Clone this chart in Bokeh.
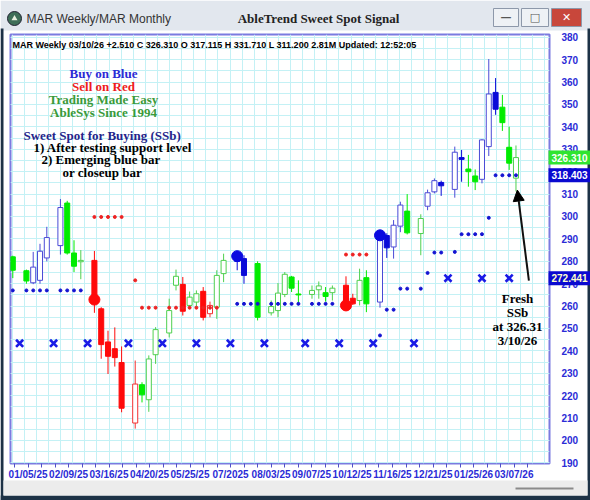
from bokeh.plotting import figure
from bokeh.models import (Range1d, FixedTicker, Label, Arrow, NormalHead,
                          ColumnDataSource, GridBox)
from bokeh.core.properties import value
from bokeh.embed import file_html
from bokeh.resources import INLINE

# ---------------- data (weekly bars, x = bar slot) ----------------
bar_slot = [0, 2, 3, 4, 5, 7, 8, 9, 10, 12, 13, 14, 15, 16, 18, 19, 20, 21,
            23, 24, 25, 26, 27, 28, 29, 30, 31, 33, 34, 36, 38, 39, 40, 41, 42,
            44, 45, 46, 47, 49, 50, 51, 52, 54, 55, 56, 57, 58, 60, 61, 62, 63,
            65, 66, 67, 68, 69, 70, 71, 72, 73, 74]
bar_open = [282, 275.8, 270.4, 271.5, 281.5, 287, 306, 283.7, 279.8, 280.4, 258.8, 244, 241, 234.8, 207.8, 224.9, 218.2, 238.3,
            248, 269.3, 269.7, 260.3, 261.8, 266.6, 256.6, 259.5, 274.5, 282.5, 281.2, 279, 257, 258, 265.2, 273, 265.4,
            265.2, 267.3, 266, 266, 269.3, 263.5, 262.5, 272.7, 261.8, 291.5, 286.4, 295.7, 302.4, 292.4, 304.6, 311, 315.2,
            312.1, 326.3, 321.2, 318.1, 316.6, 331.2, 355.4, 348.8, 330.9, 317.115]
bar_high = [282.5, 276.3, 284.2, 287.8, 295.4, 307.8, 307, 289.4, 285, 284.6, 259.5, 249, 250.5, 242, 235.7, 226, 238, 250.6,
            263.3, 276.3, 273, 266.5, 267, 268.5, 262, 276, 283.4, 283.5, 282.7, 280, 262.5, 270.3, 275.2, 273.5, 271.5,
            269.2, 271, 268.5, 269.2, 273.3, 265.5, 276.7, 276, 292.5, 292.5, 298.4, 306.6, 310, 301, 312, 317, 316,
            331.2, 329.7, 327.5, 321, 334.5, 370.3, 361.8, 354.3, 340.1, 331.71]
bar_low = [272.5, 270, 269.8, 270, 280, 283, 283, 275.2, 272, 257, 236.5, 229.7, 233, 212.6, 205.3, 217, 212.8, 234.2,
           246, 267, 255.8, 259.3, 259, 253.6, 255, 254.3, 270.7, 276, 270, 253.6, 255.8, 255, 264, 266.3, 261,
           263.3, 263.3, 262, 262.5, 259, 260.5, 260.3, 257.3, 259.3, 281.5, 281.2, 293, 292, 282.7, 302.8, 310.3, 309.2,
           308.4, 315.5, 313.3, 311.8, 314.8, 327, 345.4, 338.2, 320.8, 311.2]
bar_close = [276, 271.2, 277.4, 284.5, 290.6, 304, 283.7, 277.8, 280.4, 262.5, 242.8, 237.6, 237, 214.4, 225.2, 220.4, 236.4, 249.5,
             258, 273.3, 257.7, 264, 265.5, 255, 260.3, 273.7, 280.4, 280, 273.7, 255, 259.8, 265.8, 274.2, 268, 265,
             267, 269, 264.3, 268, 261, 261, 271.5, 261, 291.6, 286, 296.1, 305.1, 292.7, 299.1, 310.6, 316, 313.7,
             328.7, 325.5, 320, 315.5, 334.2, 354.7, 347.9, 341.9, 323.8, 326.31]
bar_trend = ["g", "g", "b", "b", "b", "b", "g", "g", "g", "r", "r", "r", "r", "r", "r", "g", "g", "g",
             "g", "g", "r", "g", "g", "r", "r", "g", "g", "b", "b", "g", "g", "g", "g", "g", "g",
             "g", "g", "g", "g", "r", "r", "g", "g", "b", "b", "b", "b", "g", "g", "b", "b", "b",
             "b", "b", "g", "g", "b", "b", "b", "g", "g", "g"]

support_slot = [0, 2, 3, 4, 5, 7, 8, 9, 10,
                33, 34, 35, 36, 38, 39, 40, 41, 42, 44, 45, 46, 47,
                54, 55, 56, 57, 58, 60, 61, 62, 63, 65, 66, 67, 68, 69, 70, 71, 72, 73, 74]
support_level = [267.0] * 9 + [261.0] * 13 + [246.9, 258.4, 258.4, 267.8, 267.8, 267.8, 274.8,
                                             283.9, 283.9, 284.2, 292.1, 292.1, 292.1, 292.1, 299.4,
                                             318.403, 318.403, 318.403, 318.403]
resist_slot = [12, 13, 14, 15, 16, 18, 19, 20, 21, 23, 24, 25, 26, 27, 28, 29, 30, 49, 50, 51, 52]
resist_level = [299.8] * 5 + [271.5] + [259.3] * 11 + [283.0] * 4

buy_signal_slot = [33, 54]
buy_signal_price = [282.3, 291.6]
sell_signal_slot = [12, 49]
sell_signal_price = [262.9, 260.3]

month_slot = [1, 6, 11, 17, 22, 27, 32, 37, 43, 48, 53, 59, 64, 69, 73]
month_level = [243.4] * 12 + [272.441] * 3

tick_labels = ["01/05/25", "02/09/25", "03/16/25", "04/20/25", "05/25/25", "07/2025",
               "08/03/25", "09/07/25", "10/12/25", "11/16/25", "12/21/25", "01/25/26", "03/07/26"]
tick_slots = [2.24, 8.2, 14.15, 20.11, 26.06, 32.02, 37.98, 43.93, 49.89, 55.84, 61.8, 67.76, 73.71]

price_ticks = list(range(190, 381, 10))
price_minor = list(range(190, 381, 5))

box_values = [326.310, 318.403, 272.441]
box_fill = ["#30e430", "#0a0ad0", "#0a0ad0"]
box_text_color = ["#ffffff", "#ffffff", "#ffffcc"]

# ---------------- layout constants ----------------
W, H = 590, 500
FL, FT, FW, FH = 10, 34, 539, 429          # frame left/top/width/height (px)
X_LO, X_HI = -0.34, 78.93
Y_LO, Y_HI = 189.73, 381.25

# ---------------- candle table ----------------
FILLED = {"b": "#0a0ad8", "g": "#00ec00", "r": "#ff0a0a"}
HOLLOW = {"b": "#4a4ad6", "g": "#4fd04f", "r": "#f23030"}
tops, bots, fills, lines = [], [], [], []
for o, c, t in zip(bar_open, bar_close, bar_trend):
    tops.append(max(o, c))
    bots.append(min(o, c))
    if c > o:
        fills.append("#ffffff")
        lines.append(HOLLOW[t])
    else:
        fills.append(FILLED[t])
        lines.append(FILLED[t])
src = ColumnDataSource(dict(x=bar_slot, top=tops, bottom=bots, high=bar_high,
                            low=bar_low, fill=fills, line=lines))

step = tick_slots[1] - tick_slots[0]
minor = []
for t in tick_slots:
    minor += [t - step / 3, t + step / 3]
grid_x = [(-0.09 + 1.78 * k) for k in range(45)]

# ---------------- main chart ----------------
p = figure(frame_width=FW, frame_height=FH, width=W, height=H,
           x_range=Range1d(X_LO, X_HI), y_range=Range1d(Y_LO, Y_HI),
           y_axis_location="right", output_backend="svg", toolbar_location=None,
           min_border_left=FL, min_border_right=W - FL - FW, min_border_top=FT,
           min_border_bottom=H - FT - FH)
p.frame_align = False
p.background_fill_color = "white"
p.border_fill_color = "white"
p.outline_line_color = "#7b7be0"
p.outline_line_width = 2

p.xaxis.ticker = FixedTicker(ticks=tick_slots, minor_ticks=minor)
p.xaxis.major_label_overrides = {t: l for t, l in zip(tick_slots, tick_labels)}
p.yaxis.ticker = FixedTicker(ticks=price_ticks, minor_ticks=price_minor)
for ax in (p.xaxis[0], p.yaxis[0]):
    ax.axis_line_color = None
    ax.major_label_text_font = "Liberation Sans"
    ax.major_label_text_font_style = "bold"
    ax.major_label_text_font_size = "10px"
    ax.major_label_text_color = "#2b2bd6"
p.xaxis.major_tick_line_color = "#5050c8"
p.xaxis.minor_tick_line_color = "#5050c8"
p.xaxis.major_tick_in = 0
p.xaxis.major_tick_out = 4
p.xaxis.minor_tick_in = 0
p.xaxis.minor_tick_out = 4
p.xaxis.major_label_standoff = 1
p.yaxis.major_tick_line_color = None
p.yaxis.minor_tick_line_color = None
p.yaxis.major_label_standoff = 6

GRID = "#c4f1f5"
p.xgrid.ticker = FixedTicker(ticks=grid_x)
p.xgrid.grid_line_color = GRID
p.ygrid.grid_line_color = GRID
p.ygrid.minor_grid_line_color = GRID

p.segment(x0="x", y0="low", x1="x", y1="high", line_color="line", line_width=1, source=src)
p.vbar(x="x", width=0.74, top="top", bottom="bottom", fill_color="fill",
       line_color="line", line_width=1, source=src)

p.scatter(support_slot, support_level, size=3, color="#1414d2", marker="circle")
p.scatter(resist_slot, resist_level, size=3, color="#ee2222", marker="circle")
p.scatter(buy_signal_slot, buy_signal_price, size=11, color="#0a0ae0")
p.scatter(sell_signal_slot, sell_signal_price, size=11, color="#ff0a0a")
p.scatter(month_slot, month_level, marker="x", size=10, line_width=2.6, color="#1a1ae6")

p.add_layout(Arrow(end=NormalHead(size=11, fill_color="black", line_color="black"),
                   x_start=75.9, y_start=271.4, x_end=bar_slot[-1] + 0.2, y_end=bar_low[-1] + 0.6,
                   line_width=2, line_color="#111111"))


def lab(x, y, text, size="13px", color="black", font="Liberation Serif", style="bold", align="center"):
    p.add_layout(Label(x=x, y=y, x_units="canvas", y_units="canvas", text=text,
                       text_font=font, text_font_size=size, text_font_style=style,
                       text_color=color, text_align=align, text_baseline="middle"))


lab(12, 44, "MAR  Weekly 03/10/26 +2.510 C 326.310 O 317.115 H 331.710 L 311.200 2.81M Updated: 12:52:05",
    size="9px", font="Liberation Sans", align="left")
lab(103, 73, "Buy on Blue", color="#2b2bd6")
lab(103, 86, "Sell on Red", color="#ee1c1c")
lab(103, 99, "Trading Made Easy", color="#3a9a3a")
lab(103, 112, "AbleSys Since 1994", color="#3a9a3a")
lab(23, 135, "Sweet Spot for Buying (SSb)", color="#24248a", align="left")
lab(33, 147, "1) After testing support level", align="left")
lab(41, 159, "2) Emerging blue bar", align="left")
lab(62, 172, "or closeup bar", align="left")
lab(517, 298, "Fresh")
lab(517, 312, "SSb")
lab(517, 326, "at 326.31")
lab(517, 340, "3/10/26")

# ---------------- transparent overlay: window chrome + price boxes ----------------
scale = FH / (Y_HI - Y_LO)
ov = figure(width=W, height=H, x_range=Range1d(0, W),
            y_range=Range1d(Y_LO - (H - FT - FH) / scale, Y_HI + FT / scale),
            x_axis_type=None, y_axis_type=None, min_border=0, toolbar_location=None,
            output_backend="svg")
ov.frame_align = False
ov.outline_line_color = None
ov.background_fill_alpha = 0
ov.border_fill_alpha = 0
ov.extra_y_ranges = {"px": Range1d(H, 0)}

# title bar, buttons, borders, bottom strip
ov.quad(left=[0], right=[W], top=[0], bottom=[30], fill_color="#e2e7ee", line_color=None, y_range_name="px")
ov.quad(left=[0, 587, 0], right=[3, W, W], top=[28, 28, 495], bottom=[H, H, H],
        fill_color="#1d3246", line_color=None, y_range_name="px")
ov.quad(left=[3], right=[587], top=[480], bottom=[495], fill_color="#ececec", line_color=None, y_range_name="px")
ov.quad(left=[515], right=[573], top=[487], bottom=[489], fill_color="#8a8a8a", line_color=None, y_range_name="px")
ov.quad(left=[493, 521, 551], right=[518, 548, 581], top=[8, 8, 8], bottom=[26, 26, 26],
        fill_color=["#eef1f5", "#eef1f5", "#c8473b"], line_color="#8d98aa", y_range_name="px")
ov.scatter([14], [18], size=14, fill_color="#3e6e58", line_color="#223", y_range_name="px")
ov.scatter([14], [18], size=6, marker="triangle", fill_color="#e8f0e0", line_color=None, y_range_name="px")
ov.text(x=[26], y=[18], text=["MAR Weekly/MAR Monthly"], text_font=value("Liberation Sans"),
        text_font_size="12px", text_color="#333333", text_baseline="middle", y_range_name="px")
ov.text(x=[318], y=[18], text=["AbleTrend Sweet Spot Signal"], text_font=value("Liberation Serif"),
        text_font_size="13px", text_font_style="bold", text_color="#222222", text_align="center",
        text_baseline="middle", y_range_name="px")
ov.text(x=[505.5, 534.5, 566], y=[17, 17, 17], text=["\u2014", "\u25a1", "\u2715"],
        text_font=value("DejaVu Sans"), text_font_size="11px", text_font_style="bold",
        text_color=["#555555", "#555555", "#ffffff"], text_align="center", text_baseline="middle",
        y_range_name="px")

# price boxes over the right axis
ov.rect(x=[569] * 3, y=box_values, width=42, height=14, height_units="screen",
        fill_color=box_fill, line_color=None)
ov.text(x=[551] * 3, y=box_values, text=[f"{v:.3f}" for v in box_values],
        text_font=value("Liberation Sans"), text_font_size="10px", text_font_style="bold",
        text_color=box_text_color, text_baseline="middle")

layout = GridBox(children=[(p, 0, 0), (ov, 0, 0)])
open("out.html", "w").write(file_html(layout, INLINE))
